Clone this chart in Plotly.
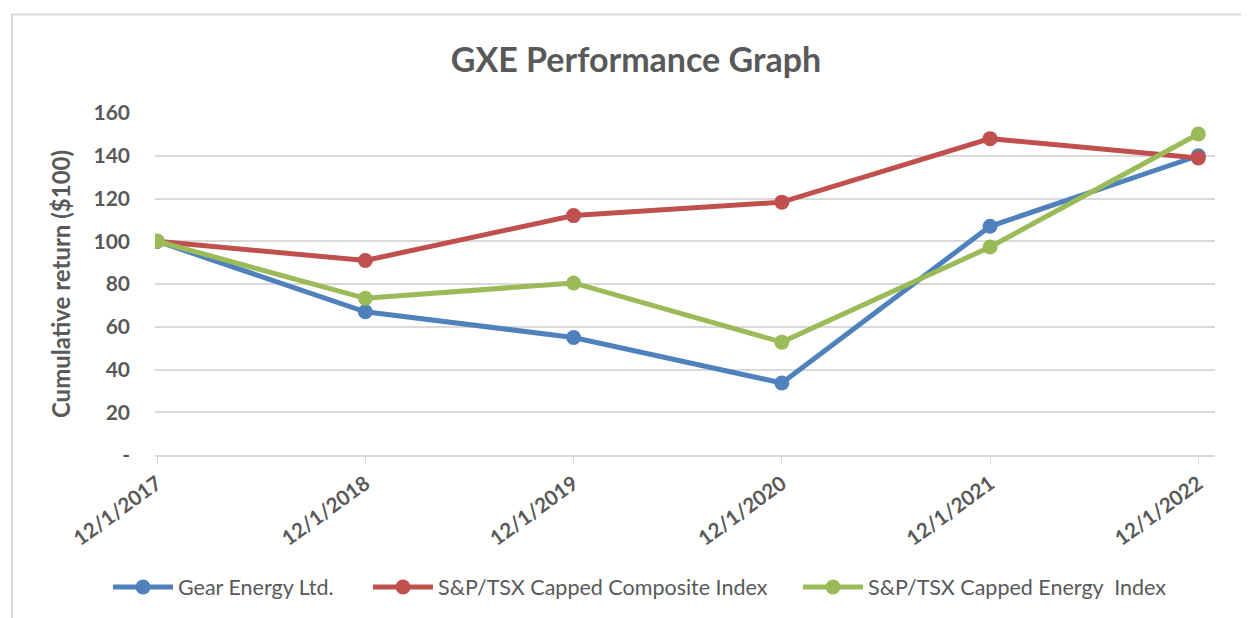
import plotly.graph_objects as go

categories = ["12/1/2017", "12/1/2018", "12/1/2019", "12/1/2020", "12/1/2021", "12/1/2022"]
gear = [100, 67, 55, 33.7, 107, 140]
composite = [100, 91, 112, 118.3, 148, 139]
energy = [100, 73.3, 80.5, 52.8, 97.3, 150.2]
y_ticks = [0, 20, 40, 60, 80, 100, 120, 140, 160]
y_labels = ["-", "20", "40", "60", "80", "100", "120", "140", "160"]

series = [
    ("Gear Energy Ltd.", gear, "#4f81bd", "legend"),
    ("S&P/TSX Capped Composite Index", composite, "#c0504d", "legend2"),
    ("S&P/TSX Capped Energy  Index", energy, "#9bbb59", "legend3"),
]

W, H = 1249, 618
OFF = 8  # page body margin
# plot area in page pixels
PX0, PX1, PY0, PY1 = 155, 1215, 113, 455


def px(x):
    return (x - PX0) / (PX1 - PX0)


def py(y):
    return (PY1 - y) / (PY1 - PY0)


xs = list(range(len(categories)))
fig = go.Figure()
for name, vals, col, lg in series:
    fig.add_trace(go.Scatter(
        x=xs, y=vals, name=name, mode="lines+markers",
        line=dict(color=col, width=5),
        marker=dict(color=col, size=15),
        legend=lg,
    ))

font = "Lato, 'Open Sans', sans-serif"
legend_common = dict(orientation="h", yanchor="middle", y=py(587), xanchor="left",
                     font=dict(size=21.5, color="#595959"), itemwidth=60,
                     bgcolor="rgba(0,0,0,0)")
fig.update_layout(
    width=W, height=H,
    margin=dict(l=PX0 - OFF, r=W - (PX1 - OFF), t=PY0 - OFF, b=H - (PY1 - OFF), autoexpand=False),
    paper_bgcolor="white", plot_bgcolor="white",
    font=dict(family=font, color="#595959"),
    title=dict(text="<b>GXE Performance Graph</b>", x=(636 - OFF) / W, xanchor="center", xref="container",
               y=1 - (60 - OFF) / H, yanchor="middle", font=dict(size=34, color="#595959")),
    showlegend=True,
    legend=dict(legend_common, x=px(108)),
    legend2=dict(legend_common, x=px(368)),
    legend3=dict(legend_common, x=px(798)),
    xaxis=dict(
        tickmode="array", tickvals=xs, ticktext=[f"<b>{c}</b>" for c in categories],
        range=[-0.01, 5.08], showgrid=False, zeroline=False, automargin=False,
        showline=True, linecolor="#d9d9d9", linewidth=1.5,
        ticks="outside", ticklen=7, tickcolor="#d9d9d9",
        tickangle=-36, tickfont=dict(size=20.5, color="#595959"),
    ),
    yaxis=dict(
        tickmode="array", tickvals=y_ticks, ticktext=[f"<b>{t}</b>" for t in y_labels],
        range=[0, 160], showgrid=True, gridcolor="#d9d9d9", gridwidth=1.5,
        zeroline=False, showline=False, ticks="", ticklabelstandoff=24, automargin=False,
        tickfont=dict(size=21, color="#595959"),
        title=dict(text="<b>Cumulative return ($100)</b>", font=dict(size=24, color="#595959"), standoff=16),
    ),
)
fig.add_shape(type="rect", xref="paper", yref="paper",
              x0=px(12), x1=px(1275), y0=py(650), y1=py(14.5),
              line=dict(color="#d9d9d9", width=2), fillcolor="rgba(0,0,0,0)", layer="below")
fig.write_html("out.html")
